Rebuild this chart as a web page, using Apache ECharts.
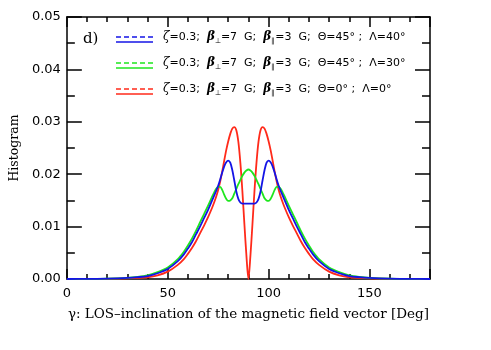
<!DOCTYPE html>
<html>
<head>
<meta charset="utf-8">
<script src="https://cdn.jsdelivr.net/npm/echarts@6/dist/echarts.min.js"></script>
<style>
  html, body { margin: 0; padding: 0; background: #fff; }
  #chart { width: 491px; height: 350px; }
</style>
</head>
<body>
<div id="chart"></div>
<script>
// inclination angle gamma [deg]
var angles = [0, 10, 20, 30, 35, 40, 45, 50, 55, 58, 60, 62, 64, 66, 68, 70, 72,
    73, 74, 75, 76, 77, 78, 79, 80, 81, 82, 83, 84, 85, 86, 87, 88, 89, 90,
    91, 92, 93, 94, 95, 96, 97, 98, 99, 100, 101, 102, 103, 104, 105, 106, 107,
    108, 110, 112, 114, 116, 118, 120, 122, 125, 130, 135, 140, 145, 150, 160, 170, 180];

// Theta=0, Lambda=0
var histRed = [0, 0.00001, 0.00004, 0.00012, 0.0002, 0.00033, 0.0007, 0.0014, 0.0027, 0.0038,
    0.0048, 0.0059, 0.0072, 0.0087, 0.0102, 0.0118, 0.0136,
    0.0146, 0.0157, 0.0170, 0.0186, 0.0205, 0.0226, 0.0246, 0.0263, 0.0277, 0.0287, 0.0290,
    0.0284, 0.0262, 0.0222, 0.0168, 0.0105, 0.0045, 0.0,
    0.0045, 0.0105, 0.0168, 0.0222, 0.0262, 0.0284, 0.0290, 0.0287, 0.0277, 0.0263, 0.0246,
    0.0226, 0.0205, 0.0186, 0.0170, 0.0157, 0.0146,
    0.0136, 0.0118, 0.0102, 0.0087, 0.0072, 0.0059, 0.0048, 0.0038, 0.0027, 0.0014,
    0.0007, 0.00033, 0.0002, 0.00012, 0.00004, 0.00001, 0];

// Theta=45, Lambda=30
var histGreen = [0, 0.00002, 0.00007, 0.00022, 0.0004, 0.0007, 0.0013, 0.0022, 0.0038, 0.0052,
    0.0064, 0.0077, 0.0092, 0.0108, 0.0124, 0.0140, 0.0157,
    0.0165, 0.0172, 0.0176, 0.0176, 0.0170, 0.0161, 0.0153, 0.0149, 0.0150, 0.0154, 0.0163,
    0.0172, 0.0181, 0.0189, 0.0197, 0.0203, 0.0207, 0.0209,
    0.0207, 0.0203, 0.0197, 0.0189, 0.0181, 0.0172, 0.0163, 0.0154, 0.0150, 0.0149, 0.0153,
    0.0161, 0.0170, 0.0176, 0.0176, 0.0172, 0.0165,
    0.0157, 0.0140, 0.0124, 0.0108, 0.0092, 0.0077, 0.0064, 0.0052, 0.0038, 0.0022,
    0.0013, 0.0007, 0.0004, 0.00022, 0.00007, 0.00002, 0];

// Theta=45, Lambda=40
var histBlue = [0, 0.00002, 0.00006, 0.0002, 0.00035, 0.00057, 0.0011, 0.0019, 0.0034, 0.0047,
    0.0058, 0.0070, 0.0085, 0.0100, 0.0116, 0.0132, 0.0150,
    0.0159, 0.0168, 0.0178, 0.0190, 0.0203, 0.0215, 0.0223, 0.0226, 0.0222, 0.0208, 0.0188,
    0.0167, 0.0153, 0.0146, 0.0144, 0.0144, 0.0144, 0.0144,
    0.0144, 0.0144, 0.0144, 0.0146, 0.0153, 0.0167, 0.0188, 0.0208, 0.0222, 0.0226, 0.0223,
    0.0215, 0.0203, 0.0190, 0.0178, 0.0168, 0.0159,
    0.0150, 0.0132, 0.0116, 0.0100, 0.0085, 0.0070, 0.0058, 0.0047, 0.0034, 0.0019,
    0.0011, 0.00057, 0.00035, 0.0002, 0.00006, 0.00002, 0];

var legendLabels = [
    '{g|ζ}=0.3;  {b|β}{s|⊥}=7  G;  {b|β}{s|∥}=3  G;  Θ=45° ;  Λ=40°',
    '{g|ζ}=0.3;  {b|β}{s|⊥}=7  G;  {b|β}{s|∥}=3  G;  Θ=45° ;  Λ=30°',
    '{g|ζ}=0.3;  {b|β}{s|⊥}=7  G;  {b|β}{s|∥}=3  G;  Θ=0° ;  Λ=0°'
];
var legendColors = ['#1414e6', '#1ee61e', '#ff2a1a'];

var chart = echarts.init(document.getElementById('chart'));

function pairs(ys) {
    var out = [];
    for (var i = 0; i < angles.length; i++) out.push([angles[i], ys[i]]);
    return out;
}

var labelFont = 'DejaVu Sans';
var titleFont = 'DejaVu Serif';

function xAx(pos, interval, len, labels) {
    return {
        type: 'value', position: pos, min: 0, max: 180, interval: interval,
        axisLine: { show: interval === 10, onZero: false, lineStyle: { color: '#000', width: 1.5 } },
        axisTick: { show: true, inside: true, length: len, lineStyle: { color: '#000', width: 1.5 } },
        splitLine: { show: false },
        axisLabel: {
            show: labels, color: '#000', fontFamily: labelFont, fontSize: 13, margin: 8,
            formatter: function (v) { return v % 50 === 0 ? String(v) : ''; }
        },
        name: labels ? 'γ: LOS–inclination of the magnetic field vector [Deg]' : '',
        nameLocation: 'middle', nameGap: 28,
        nameTextStyle: { color: '#000', fontFamily: titleFont, fontSize: 13.5 }
    };
}

function yAx(pos, labels) {
    return {
        type: 'value', position: pos, min: 0, max: 0.05, interval: 0.01,
        axisLine: { show: true, onZero: false, lineStyle: { color: '#000', width: 1.5 } },
        axisTick: { show: true, inside: true, length: 15, lineStyle: { color: '#000', width: 1.5 } },
        minorTick: { show: true, splitNumber: 2, length: 8, lineStyle: { color: '#000', width: 1.5 } },
        splitLine: { show: false },
        axisLabel: {
            show: labels, color: '#000', fontFamily: labelFont, fontSize: 13, margin: 6,
            formatter: function (v) { return v.toFixed(2); }
        },
        name: labels ? 'Histogram' : '',
        nameLocation: 'middle', nameGap: 43,
        nameTextStyle: { color: '#000', fontFamily: titleFont, fontSize: 12.5 }
    };
}

var graphics = [{
    type: 'text', left: 83, top: 32,
    style: { text: 'd)', font: '15px "DejaVu Serif"', fill: '#000' }
}];
for (var r = 0; r < 3; r++) {
    var yy = 39 + r * 26;
    graphics.push({
        type: 'line', shape: { x1: 116, y1: yy - 2, x2: 153, y2: yy - 2 },
        style: { stroke: legendColors[r], lineWidth: 1.5, lineDash: [5, 3] }
    });
    graphics.push({
        type: 'line', shape: { x1: 116, y1: yy + 3, x2: 153, y2: yy + 3 },
        style: { stroke: legendColors[r], lineWidth: 1.5 }
    });
    graphics.push({
        type: 'text', left: 163, top: yy - 8,
        style: {
            text: legendLabels[r], fill: '#000', fontFamily: labelFont, fontSize: 11,
            rich: {
                g: { fontFamily: 'DejaVu Serif', fontStyle: 'italic', fontSize: 12 },
                b: { fontFamily: 'DejaVu Serif', fontStyle: 'italic', fontWeight: 'bold', fontSize: 12 },
                s: { fontSize: 7, padding: [8, 0, 0, 0] }
            }
        }
    });
}

function lineSeries(data, color) {
    return {
        type: 'line', data: pairs(data), showSymbol: false, smooth: 0.3,
        lineStyle: { color: color, width: 1.8 }, itemStyle: { color: color },
        xAxisIndex: 0, yAxisIndex: 0, z: 3
    };
}

var option = {
    animation: false,
    backgroundColor: '#fff',
    grid: { left: 61, right: 61, top: 17, bottom: 71 },
    xAxis: [
        xAx('bottom', 10, 5, true),
        xAx('top', 10, 5, false),
        xAx('bottom', 50, 10, false),
        xAx('top', 50, 10, false)
    ],
    yAxis: [yAx('left', true), yAx('right', false)],
    graphic: graphics,
    series: [
        lineSeries(histRed, legendColors[2]),
        lineSeries(histGreen, legendColors[1]),
        lineSeries(histBlue, legendColors[0])
    ]
};
chart.setOption(option);
</script>
</body>
</html>
